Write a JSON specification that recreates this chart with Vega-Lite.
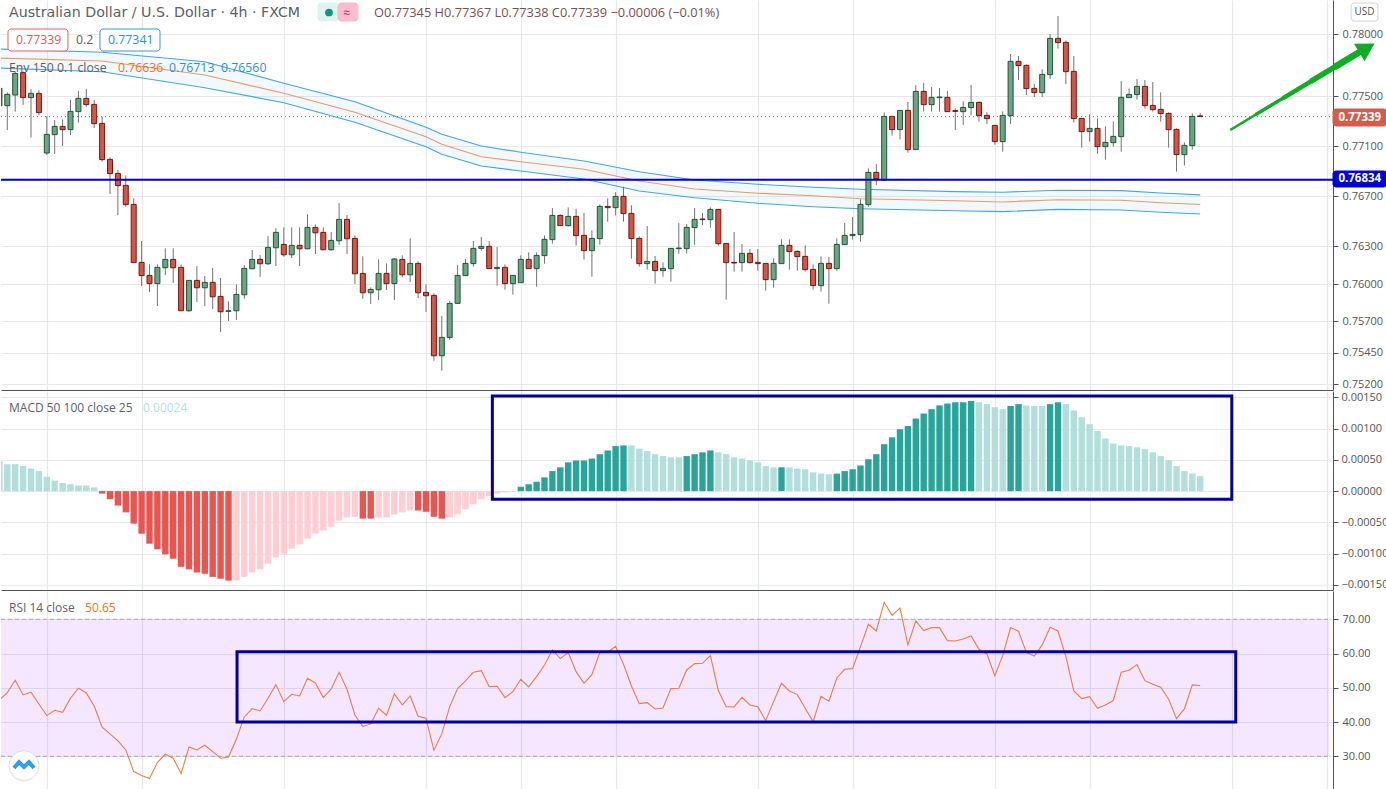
{"$schema":"https://vega.github.io/schema/vega-lite/v6.json","padding":0,"spacing":1,"background":"#ffffff","config":{"view":{"stroke":null},"font":"Open Sans","axis":{"title":null,"labelFont":"Open Sans","labelFontSize":11,"labelColor":"#555555","labelOverlap":false,"labelBound":false,"gridColor":"#e6e8ec","gridWidth":1.2,"domainColor":"#50535e","tickColor":"#50535e"}},"resolve":{"scale":{"color":"independent","fill":"independent","stroke":"independent"}},"datasets":{"candles":[{"i":-1,"o":0.77565,"h":0.776,"l":0.774,"c":0.77427},{"i":0,"o":0.77427,"h":0.77533,"l":0.77232,"c":0.77517},{"i":1,"o":0.77512,"h":0.777,"l":0.77379,"c":0.77685},{"i":2,"o":0.77691,"h":0.777,"l":0.77432,"c":0.77491},{"i":3,"o":0.77491,"h":0.7756,"l":0.77171,"c":0.77525},{"i":4,"o":0.77525,"h":0.77552,"l":0.77352,"c":0.77371},{"i":5,"o":0.77048,"h":0.77344,"l":0.77032,"c":0.77197},{"i":6,"o":0.77195,"h":0.77312,"l":0.7704,"c":0.77261},{"i":7,"o":0.77261,"h":0.77317,"l":0.77104,"c":0.77235},{"i":8,"o":0.77235,"h":0.77472,"l":0.77192,"c":0.77381},{"i":9,"o":0.77379,"h":0.77544,"l":0.77291,"c":0.77485},{"i":10,"o":0.77485,"h":0.7756,"l":0.77419,"c":0.77435},{"i":11,"o":0.77437,"h":0.77472,"l":0.77248,"c":0.77283},{"i":12,"o":0.77285,"h":0.77339,"l":0.76979,"c":0.76995},{"i":13,"o":0.76997,"h":0.77013,"l":0.7672,"c":0.76883},{"i":14,"o":0.76885,"h":0.76912,"l":0.76552,"c":0.76787},{"i":15,"o":0.76789,"h":0.76869,"l":0.76619,"c":0.76635},{"i":16,"o":0.76637,"h":0.76685,"l":0.76171,"c":0.76171},{"i":17,"o":0.76173,"h":0.76344,"l":0.75984,"c":0.76067},{"i":18,"o":0.76069,"h":0.76157,"l":0.75936,"c":0.76003},{"i":19,"o":0.76003,"h":0.76157,"l":0.75824,"c":0.76133},{"i":20,"o":0.7613,"h":0.76285,"l":0.76072,"c":0.76197},{"i":21,"o":0.76197,"h":0.76285,"l":0.76008,"c":0.7613},{"i":22,"o":0.76133,"h":0.76157,"l":0.75786,"c":0.75786},{"i":23,"o":0.75786,"h":0.76029,"l":0.75778,"c":0.76029},{"i":24,"o":0.76029,"h":0.76144,"l":0.75856,"c":0.7597},{"i":25,"o":0.7597,"h":0.76064,"l":0.75824,"c":0.76013},{"i":26,"o":0.76013,"h":0.76128,"l":0.758,"c":0.75898},{"i":27,"o":0.75901,"h":0.76048,"l":0.75616,"c":0.75778},{"i":28,"o":0.75781,"h":0.75861,"l":0.75704,"c":0.75786},{"i":29,"o":0.75786,"h":0.75997,"l":0.75712,"c":0.75917},{"i":30,"o":0.75914,"h":0.76152,"l":0.75882,"c":0.76125},{"i":31,"o":0.76122,"h":0.76272,"l":0.76122,"c":0.76197},{"i":32,"o":0.76197,"h":0.76232,"l":0.76056,"c":0.76162},{"i":33,"o":0.76162,"h":0.76384,"l":0.76152,"c":0.76293},{"i":34,"o":0.7629,"h":0.76445,"l":0.76144,"c":0.76413},{"i":35,"o":0.76317,"h":0.76453,"l":0.76218,"c":0.76234},{"i":36,"o":0.76234,"h":0.76453,"l":0.76208,"c":0.76309},{"i":37,"o":0.76309,"h":0.76453,"l":0.76144,"c":0.76282},{"i":38,"o":0.76282,"h":0.76557,"l":0.76277,"c":0.76453},{"i":39,"o":0.76453,"h":0.76477,"l":0.7624,"c":0.7641},{"i":40,"o":0.76413,"h":0.76453,"l":0.76272,"c":0.76274},{"i":41,"o":0.76274,"h":0.76416,"l":0.76266,"c":0.76349},{"i":42,"o":0.76346,"h":0.76648,"l":0.76312,"c":0.76517},{"i":43,"o":0.76517,"h":0.76552,"l":0.7624,"c":0.76362},{"i":44,"o":0.76365,"h":0.76389,"l":0.76,"c":0.76082},{"i":45,"o":0.76085,"h":0.76221,"l":0.75882,"c":0.7593},{"i":46,"o":0.7593,"h":0.75973,"l":0.7584,"c":0.75957},{"i":47,"o":0.75954,"h":0.76197,"l":0.75872,"c":0.76085},{"i":48,"o":0.76085,"h":0.76165,"l":0.75952,"c":0.76003},{"i":49,"o":0.76003,"h":0.76208,"l":0.75872,"c":0.762},{"i":50,"o":0.76197,"h":0.76229,"l":0.76053,"c":0.76074},{"i":51,"o":0.76074,"h":0.76365,"l":0.76016,"c":0.76165},{"i":52,"o":0.76165,"h":0.76181,"l":0.75888,"c":0.7593},{"i":53,"o":0.75933,"h":0.75997,"l":0.75776,"c":0.75906},{"i":54,"o":0.75909,"h":0.75925,"l":0.75386,"c":0.75426},{"i":55,"o":0.75426,"h":0.75744,"l":0.75306,"c":0.75573},{"i":56,"o":0.75573,"h":0.75864,"l":0.75552,"c":0.75845},{"i":57,"o":0.75845,"h":0.76152,"l":0.75845,"c":0.76069},{"i":58,"o":0.76067,"h":0.762,"l":0.76067,"c":0.76165},{"i":59,"o":0.76163,"h":0.76344,"l":0.76139,"c":0.76285},{"i":60,"o":0.76285,"h":0.76376,"l":0.76267,"c":0.76301},{"i":61,"o":0.76301,"h":0.76344,"l":0.76123,"c":0.76123},{"i":62,"o":0.76123,"h":0.76296,"l":0.75987,"c":0.76133},{"i":63,"o":0.76133,"h":0.76157,"l":0.75955,"c":0.76003},{"i":64,"o":0.76003,"h":0.76069,"l":0.75915,"c":0.76069},{"i":65,"o":0.76011,"h":0.76229,"l":0.76011,"c":0.76197},{"i":66,"o":0.76197,"h":0.76253,"l":0.76123,"c":0.76123},{"i":67,"o":0.76123,"h":0.76253,"l":0.75979,"c":0.76229},{"i":68,"o":0.76227,"h":0.76389,"l":0.76163,"c":0.76357},{"i":69,"o":0.76355,"h":0.76608,"l":0.76323,"c":0.76549},{"i":70,"o":0.76549,"h":0.76557,"l":0.76467,"c":0.76467},{"i":71,"o":0.76467,"h":0.76613,"l":0.76459,"c":0.76541},{"i":72,"o":0.76541,"h":0.766,"l":0.76307,"c":0.76387},{"i":73,"o":0.76389,"h":0.76568,"l":0.76195,"c":0.76267},{"i":74,"o":0.76267,"h":0.76429,"l":0.76059,"c":0.76365},{"i":75,"o":0.76363,"h":0.76637,"l":0.76315,"c":0.76621},{"i":76,"o":0.76621,"h":0.76685,"l":0.76499,"c":0.76611},{"i":77,"o":0.76611,"h":0.76733,"l":0.76549,"c":0.76701},{"i":78,"o":0.76701,"h":0.76779,"l":0.76499,"c":0.76563},{"i":79,"o":0.76565,"h":0.76629,"l":0.76203,"c":0.76363},{"i":80,"o":0.76365,"h":0.76381,"l":0.76139,"c":0.76163},{"i":81,"o":0.76163,"h":0.76464,"l":0.76115,"c":0.76181},{"i":82,"o":0.76181,"h":0.76224,"l":0.76003,"c":0.76107},{"i":83,"o":0.76107,"h":0.76173,"l":0.76059,"c":0.76125},{"i":84,"o":0.76123,"h":0.76285,"l":0.76019,"c":0.76285},{"i":85,"o":0.76283,"h":0.76488,"l":0.76243,"c":0.76288},{"i":86,"o":0.76283,"h":0.7648,"l":0.76243,"c":0.76453},{"i":87,"o":0.76451,"h":0.76608,"l":0.76315,"c":0.76517},{"i":88,"o":0.7652,"h":0.76568,"l":0.76472,"c":0.76515},{"i":89,"o":0.76515,"h":0.76613,"l":0.76451,"c":0.76597},{"i":90,"o":0.76597,"h":0.76597,"l":0.76307,"c":0.76323},{"i":91,"o":0.76325,"h":0.76325,"l":0.75875,"c":0.76171},{"i":92,"o":0.76173,"h":0.76416,"l":0.76099,"c":0.76168},{"i":93,"o":0.76171,"h":0.7632,"l":0.76099,"c":0.76245},{"i":94,"o":0.76245,"h":0.7628,"l":0.76163,"c":0.76171},{"i":95,"o":0.76173,"h":0.7628,"l":0.76107,"c":0.76163},{"i":96,"o":0.76165,"h":0.76165,"l":0.75947,"c":0.76035},{"i":97,"o":0.76035,"h":0.76205,"l":0.75971,"c":0.76165},{"i":98,"o":0.76163,"h":0.76357,"l":0.76163,"c":0.76309},{"i":99,"o":0.76309,"h":0.76357,"l":0.76115,"c":0.76259},{"i":100,"o":0.76261,"h":0.76269,"l":0.76107,"c":0.76219},{"i":101,"o":0.76221,"h":0.76309,"l":0.76099,"c":0.76115},{"i":102,"o":0.76117,"h":0.76157,"l":0.75955,"c":0.75987},{"i":103,"o":0.75987,"h":0.76221,"l":0.75939,"c":0.76165},{"i":104,"o":0.76165,"h":0.76216,"l":0.75843,"c":0.76123},{"i":105,"o":0.76123,"h":0.76365,"l":0.76107,"c":0.76317},{"i":106,"o":0.76315,"h":0.76488,"l":0.76315,"c":0.76389},{"i":107,"o":0.76387,"h":0.76536,"l":0.76355,"c":0.76397},{"i":108,"o":0.76395,"h":0.76677,"l":0.76339,"c":0.76637},{"i":109,"o":0.76635,"h":0.76925,"l":0.76619,"c":0.76893},{"i":110,"o":0.76893,"h":0.7696,"l":0.76792,"c":0.76843},{"i":111,"o":0.76832,"h":0.77373,"l":0.76824,"c":0.77341},{"i":112,"o":0.77341,"h":0.77341,"l":0.77187,"c":0.77235},{"i":113,"o":0.77235,"h":0.77389,"l":0.77155,"c":0.77389},{"i":114,"o":0.77389,"h":0.77456,"l":0.77051,"c":0.77075},{"i":115,"o":0.77075,"h":0.77592,"l":0.77075,"c":0.77541},{"i":116,"o":0.77541,"h":0.77608,"l":0.77379,"c":0.77435},{"i":117,"o":0.77435,"h":0.77576,"l":0.77379,"c":0.77493},{"i":118,"o":0.77491,"h":0.77568,"l":0.77379,"c":0.77496},{"i":119,"o":0.77493,"h":0.77544,"l":0.77379,"c":0.77379},{"i":120,"o":0.77387,"h":0.77405,"l":0.77232,"c":0.77381},{"i":121,"o":0.77379,"h":0.77461,"l":0.77272,"c":0.77413},{"i":122,"o":0.77411,"h":0.77592,"l":0.77352,"c":0.77453},{"i":123,"o":0.77453,"h":0.77461,"l":0.77299,"c":0.77347},{"i":124,"o":0.77349,"h":0.77373,"l":0.7728,"c":0.77323},{"i":125,"o":0.77269,"h":0.77269,"l":0.77115,"c":0.77139},{"i":126,"o":0.77139,"h":0.77381,"l":0.77059,"c":0.77349},{"i":127,"o":0.77347,"h":0.7784,"l":0.7728,"c":0.77781},{"i":128,"o":0.77781,"h":0.77824,"l":0.77632,"c":0.77747},{"i":129,"o":0.77749,"h":0.77757,"l":0.77512,"c":0.77563},{"i":130,"o":0.77565,"h":0.776,"l":0.77496,"c":0.77531},{"i":131,"o":0.77531,"h":0.77717,"l":0.77496,"c":0.77677},{"i":132,"o":0.77675,"h":0.78,"l":0.7764,"c":0.77965},{"i":133,"o":0.77965,"h":0.78144,"l":0.77883,"c":0.77931},{"i":134,"o":0.77933,"h":0.77949,"l":0.776,"c":0.77699},{"i":135,"o":0.77701,"h":0.77824,"l":0.77291,"c":0.77323},{"i":136,"o":0.77325,"h":0.77325,"l":0.77091,"c":0.77219},{"i":137,"o":0.77219,"h":0.77357,"l":0.77139,"c":0.77245},{"i":138,"o":0.77245,"h":0.77325,"l":0.77043,"c":0.77099},{"i":139,"o":0.77099,"h":0.77261,"l":0.76995,"c":0.77133},{"i":140,"o":0.77131,"h":0.77301,"l":0.77099,"c":0.77181},{"i":141,"o":0.77179,"h":0.77624,"l":0.77059,"c":0.77493},{"i":142,"o":0.77491,"h":0.77565,"l":0.77491,"c":0.77517},{"i":143,"o":0.77515,"h":0.7764,"l":0.77475,"c":0.77581},{"i":144,"o":0.77581,"h":0.77632,"l":0.77403,"c":0.77427},{"i":145,"o":0.77429,"h":0.77616,"l":0.77379,"c":0.77395},{"i":146,"o":0.77397,"h":0.77533,"l":0.77299,"c":0.77363},{"i":147,"o":0.77365,"h":0.77373,"l":0.77091,"c":0.77235},{"i":148,"o":0.77237,"h":0.77245,"l":0.76899,"c":0.77035},{"i":149,"o":0.77035,"h":0.77133,"l":0.76947,"c":0.77109},{"i":150,"o":0.77107,"h":0.77365,"l":0.77075,"c":0.77341},{"i":151,"o":0.77345,"h":0.77367,"l":0.77338,"c":0.77339}],"env":[{"i":-1,"u":0.7788,"b":0.77808,"l":0.77728},{"i":12,"u":0.77854,"b":0.77784,"l":0.77698},{"i":25,"u":0.77778,"b":0.77672,"l":0.7757},{"i":35,"u":0.77606,"b":0.77526,"l":0.7745},{"i":44,"u":0.77458,"b":0.77374,"l":0.77294},{"i":53,"u":0.77254,"b":0.77178,"l":0.77098},{"i":55,"u":0.77198,"b":0.77118,"l":0.77038},{"i":60,"u":0.77104,"b":0.77018,"l":0.76944},{"i":65,"u":0.77054,"b":0.76978,"l":0.76904},{"i":73,"u":0.76984,"b":0.76918,"l":0.7684},{"i":80,"u":0.76898,"b":0.76824,"l":0.76744},{"i":87,"u":0.76832,"b":0.7676,"l":0.7669},{"i":95,"u":0.76798,"b":0.76726,"l":0.76646},{"i":102,"u":0.76774,"b":0.76706,"l":0.76618},{"i":108,"u":0.76758,"b":0.76682,"l":0.76602},{"i":120,"u":0.76739,"b":0.76666,"l":0.76586},{"i":126,"u":0.76734,"b":0.76656,"l":0.76579},{"i":133,"u":0.7675,"b":0.76674,"l":0.76597},{"i":141,"u":0.76747,"b":0.7667,"l":0.76592},{"i":146,"u":0.76728,"b":0.7665,"l":0.76574},{"i":151,"u":0.76713,"b":0.76636,"l":0.7656}],"macd":[{"i":-1,"v":0.00048,"k":"upLight"},{"i":0,"v":0.00043,"k":"upLight"},{"i":1,"v":0.00043,"k":"upLight"},{"i":2,"v":0.0004,"k":"upLight"},{"i":3,"v":0.00036,"k":"upLight"},{"i":4,"v":0.00032,"k":"upLight"},{"i":5,"v":0.00023,"k":"upLight"},{"i":6,"v":0.00017,"k":"upLight"},{"i":7,"v":0.00013,"k":"upLight"},{"i":8,"v":0.00011,"k":"upLight"},{"i":9,"v":0.00009,"k":"upLight"},{"i":10,"v":0.00009,"k":"upLight"},{"i":11,"v":0.00006,"k":"upLight"},{"i":12,"v":-0.00004,"k":"dnDark"},{"i":13,"v":-0.00013,"k":"dnDark"},{"i":14,"v":-0.00023,"k":"dnDark"},{"i":15,"v":-0.00034,"k":"dnDark"},{"i":16,"v":-0.00052,"k":"dnDark"},{"i":17,"v":-0.00068,"k":"dnDark"},{"i":18,"v":-0.00084,"k":"dnDark"},{"i":19,"v":-0.00093,"k":"dnDark"},{"i":20,"v":-0.00101,"k":"dnDark"},{"i":21,"v":-0.00108,"k":"dnDark"},{"i":22,"v":-0.00121,"k":"dnDark"},{"i":23,"v":-0.00125,"k":"dnDark"},{"i":24,"v":-0.0013,"k":"dnDark"},{"i":25,"v":-0.00132,"k":"dnDark"},{"i":26,"v":-0.00137,"k":"dnDark"},{"i":27,"v":-0.0014,"k":"dnDark"},{"i":28,"v":-0.00143,"k":"dnDark"},{"i":29,"v":-0.00143,"k":"dnLight"},{"i":30,"v":-0.00137,"k":"dnLight"},{"i":31,"v":-0.0013,"k":"dnLight"},{"i":32,"v":-0.00125,"k":"dnLight"},{"i":33,"v":-0.00116,"k":"dnLight"},{"i":34,"v":-0.00106,"k":"dnLight"},{"i":35,"v":-0.001,"k":"dnLight"},{"i":36,"v":-0.00092,"k":"dnLight"},{"i":37,"v":-0.00085,"k":"dnLight"},{"i":38,"v":-0.00076,"k":"dnLight"},{"i":39,"v":-0.00068,"k":"dnLight"},{"i":40,"v":-0.00063,"k":"dnLight"},{"i":41,"v":-0.00057,"k":"dnLight"},{"i":42,"v":-0.00047,"k":"dnLight"},{"i":43,"v":-0.00042,"k":"dnLight"},{"i":44,"v":-0.00041,"k":"dnLight"},{"i":45,"v":-0.00044,"k":"dnDark"},{"i":46,"v":-0.00044,"k":"dnDark"},{"i":47,"v":-0.00042,"k":"dnLight"},{"i":48,"v":-0.00042,"k":"dnLight"},{"i":49,"v":-0.00037,"k":"dnLight"},{"i":50,"v":-0.00034,"k":"dnLight"},{"i":51,"v":-0.00031,"k":"dnLight"},{"i":52,"v":-0.00031,"k":"dnDark"},{"i":53,"v":-0.00033,"k":"dnDark"},{"i":54,"v":-0.00041,"k":"dnDark"},{"i":55,"v":-0.00044,"k":"dnDark"},{"i":56,"v":-0.00042,"k":"dnLight"},{"i":57,"v":-0.00037,"k":"dnLight"},{"i":58,"v":-0.00029,"k":"dnLight"},{"i":59,"v":-0.00021,"k":"dnLight"},{"i":60,"v":-0.00013,"k":"dnLight"},{"i":61,"v":-0.00008,"k":"dnLight"},{"i":62,"v":-0.00004,"k":"dnLight"},{"i":63,"v":-0.00002,"k":"dnLight"},{"i":64,"v":-0.00001,"k":"dnLight"},{"i":65,"v":0.00007,"k":"upDark"},{"i":66,"v":0.00011,"k":"upDark"},{"i":67,"v":0.00015,"k":"upDark"},{"i":68,"v":0.00022,"k":"upDark"},{"i":69,"v":0.00032,"k":"upDark"},{"i":70,"v":0.00038,"k":"upDark"},{"i":71,"v":0.00046,"k":"upDark"},{"i":72,"v":0.00049,"k":"upDark"},{"i":73,"v":0.00049,"k":"upDark"},{"i":74,"v":0.00052,"k":"upDark"},{"i":75,"v":0.00059,"k":"upDark"},{"i":76,"v":0.00065,"k":"upDark"},{"i":77,"v":0.00072,"k":"upDark"},{"i":78,"v":0.00073,"k":"upDark"},{"i":79,"v":0.00073,"k":"upLight"},{"i":80,"v":0.00068,"k":"upLight"},{"i":81,"v":0.00064,"k":"upLight"},{"i":82,"v":0.00059,"k":"upLight"},{"i":83,"v":0.00056,"k":"upLight"},{"i":84,"v":0.00054,"k":"upLight"},{"i":85,"v":0.00054,"k":"upLight"},{"i":86,"v":0.00056,"k":"upDark"},{"i":87,"v":0.00059,"k":"upDark"},{"i":88,"v":0.00062,"k":"upDark"},{"i":89,"v":0.00065,"k":"upDark"},{"i":90,"v":0.00062,"k":"upLight"},{"i":91,"v":0.00059,"k":"upLight"},{"i":92,"v":0.00054,"k":"upLight"},{"i":93,"v":0.00052,"k":"upLight"},{"i":94,"v":0.00049,"k":"upLight"},{"i":95,"v":0.00046,"k":"upLight"},{"i":96,"v":0.0004,"k":"upLight"},{"i":97,"v":0.00038,"k":"upLight"},{"i":98,"v":0.00038,"k":"upDark"},{"i":99,"v":0.00038,"k":"upLight"},{"i":100,"v":0.00036,"k":"upLight"},{"i":101,"v":0.00035,"k":"upLight"},{"i":102,"v":0.0003,"k":"upLight"},{"i":103,"v":0.00028,"k":"upLight"},{"i":104,"v":0.00027,"k":"upLight"},{"i":105,"v":0.00028,"k":"upDark"},{"i":106,"v":0.00032,"k":"upDark"},{"i":107,"v":0.00035,"k":"upDark"},{"i":108,"v":0.00041,"k":"upDark"},{"i":109,"v":0.00051,"k":"upDark"},{"i":110,"v":0.00059,"k":"upDark"},{"i":111,"v":0.00075,"k":"upDark"},{"i":112,"v":0.00086,"k":"upDark"},{"i":113,"v":0.00099,"k":"upDark"},{"i":114,"v":0.00104,"k":"upDark"},{"i":115,"v":0.00116,"k":"upDark"},{"i":116,"v":0.00124,"k":"upDark"},{"i":117,"v":0.00131,"k":"upDark"},{"i":118,"v":0.00137,"k":"upDark"},{"i":119,"v":0.0014,"k":"upDark"},{"i":120,"v":0.00142,"k":"upDark"},{"i":121,"v":0.00142,"k":"upDark"},{"i":122,"v":0.00144,"k":"upDark"},{"i":123,"v":0.00142,"k":"upLight"},{"i":124,"v":0.00139,"k":"upLight"},{"i":125,"v":0.00134,"k":"upLight"},{"i":126,"v":0.00131,"k":"upLight"},{"i":127,"v":0.00136,"k":"upDark"},{"i":128,"v":0.00139,"k":"upDark"},{"i":129,"v":0.00137,"k":"upLight"},{"i":130,"v":0.00136,"k":"upLight"},{"i":131,"v":0.00136,"k":"upLight"},{"i":132,"v":0.00139,"k":"upDark"},{"i":133,"v":0.00142,"k":"upDark"},{"i":134,"v":0.00139,"k":"upLight"},{"i":135,"v":0.00129,"k":"upLight"},{"i":136,"v":0.00118,"k":"upLight"},{"i":137,"v":0.00107,"k":"upLight"},{"i":138,"v":0.00096,"k":"upLight"},{"i":139,"v":0.00084,"k":"upLight"},{"i":140,"v":0.00076,"k":"upLight"},{"i":141,"v":0.00073,"k":"upLight"},{"i":142,"v":0.00072,"k":"upLight"},{"i":143,"v":0.0007,"k":"upLight"},{"i":144,"v":0.00067,"k":"upLight"},{"i":145,"v":0.00062,"k":"upLight"},{"i":146,"v":0.00056,"k":"upLight"},{"i":147,"v":0.00049,"k":"upLight"},{"i":148,"v":0.0004,"k":"upLight"},{"i":149,"v":0.00032,"k":"upLight"},{"i":150,"v":0.00028,"k":"upLight"},{"i":151,"v":0.00024,"k":"upLight"}],"rsi":[{"i":-1,"v":46.45},{"i":0,"v":48.59},{"i":1,"v":52.19},{"i":2,"v":47.91},{"i":3,"v":48.69},{"i":4,"v":45.28},{"i":5,"v":41.88},{"i":6,"v":43.43},{"i":7,"v":42.85},{"i":8,"v":46.94},{"i":9,"v":49.86},{"i":10,"v":48.49},{"i":11,"v":44.7},{"i":12,"v":38.47},{"i":13,"v":36.53},{"i":14,"v":34.48},{"i":15,"v":31.86},{"i":16,"v":25.53},{"i":17,"v":24.36},{"i":18,"v":23.49},{"i":19,"v":28.16},{"i":20,"v":30.59},{"i":21,"v":29.42},{"i":22,"v":24.95},{"i":23,"v":32.73},{"i":24,"v":31.86},{"i":25,"v":33.22},{"i":26,"v":31.37},{"i":27,"v":29.42},{"i":28,"v":29.81},{"i":29,"v":35.07},{"i":30,"v":41.49},{"i":31,"v":43.92},{"i":32,"v":43.24},{"i":33,"v":46.94},{"i":34,"v":50.93},{"i":35,"v":45.96},{"i":36,"v":48.1},{"i":37,"v":47.62},{"i":38,"v":52.78},{"i":39,"v":51.41},{"i":40,"v":47.13},{"i":41,"v":49.66},{"i":42,"v":54.53},{"i":43,"v":49.56},{"i":44,"v":42.07},{"i":45,"v":38.67},{"i":46,"v":39.45},{"i":47,"v":44.02},{"i":48,"v":41.98},{"i":49,"v":48.2},{"i":50,"v":45},{"i":51,"v":47.62},{"i":52,"v":41.68},{"i":53,"v":41.1},{"i":54,"v":31.76},{"i":55,"v":36.53},{"i":56,"v":44.5},{"i":57,"v":49.76},{"i":58,"v":52},{"i":59,"v":54.53},{"i":60,"v":55.01},{"i":61,"v":50.34},{"i":62,"v":50.44},{"i":63,"v":47.13},{"i":64,"v":48.88},{"i":65,"v":52.48},{"i":66,"v":50.25},{"i":67,"v":53.26},{"i":68,"v":56.67},{"i":69,"v":61.05},{"i":70,"v":58.52},{"i":71,"v":60.27},{"i":72,"v":54.72},{"i":73,"v":51.32},{"i":74,"v":53.85},{"i":75,"v":60.27},{"i":76,"v":60.37},{"i":77,"v":62.12},{"i":78,"v":56.86},{"i":79,"v":50.54},{"i":80,"v":45.38},{"i":81,"v":45.67},{"i":82,"v":43.82},{"i":83,"v":44.12},{"i":84,"v":49.76},{"i":85,"v":49.86},{"i":86,"v":55.21},{"i":87,"v":57.06},{"i":88,"v":57.15},{"i":89,"v":59.39},{"i":90,"v":49.18},{"i":91,"v":44.5},{"i":92,"v":44.41},{"i":93,"v":47.23},{"i":94,"v":45},{"i":95,"v":44.5},{"i":96,"v":40.42},{"i":97,"v":45.96},{"i":98,"v":51.32},{"i":99,"v":49.08},{"i":100,"v":48.01},{"i":101,"v":44.02},{"i":102,"v":40.13},{"i":103,"v":47.52},{"i":104,"v":46.06},{"i":105,"v":52.87},{"i":106,"v":55.4},{"i":107,"v":55.6},{"i":108,"v":62.02},{"i":109,"v":68.54},{"i":110,"v":66.59},{"i":111,"v":74.96},{"i":112,"v":71.17},{"i":113,"v":73.31},{"i":114,"v":62.51},{"i":115,"v":69.51},{"i":116,"v":66.69},{"i":117,"v":67.57},{"i":118,"v":67.57},{"i":119,"v":63.77},{"i":120,"v":63.67},{"i":121,"v":64.26},{"i":122,"v":65.13},{"i":123,"v":61.24},{"i":124,"v":59.88},{"i":125,"v":53.55},{"i":126,"v":59.39},{"i":127,"v":67.57},{"i":128,"v":66.5},{"i":129,"v":60.27},{"i":130,"v":59.29},{"i":131,"v":62.51},{"i":132,"v":67.66},{"i":133,"v":66.59},{"i":134,"v":59.1},{"i":135,"v":49.08},{"i":136,"v":46.84},{"i":137,"v":47.42},{"i":138,"v":44.02},{"i":139,"v":45},{"i":140,"v":46.26},{"i":141,"v":54.53},{"i":142,"v":55.11},{"i":143,"v":56.76},{"i":144,"v":52.09},{"i":145,"v":51.02},{"i":146,"v":50.15},{"i":147,"v":46.65},{"i":148,"v":41},{"i":149,"v":43.82},{"i":150,"v":50.83},{"i":151,"v":50.65}]},"vconcat":[{"width":1332,"height":390,"encoding":{"x":{"field":"i","type":"quantitative","scale":{"domain":[-0.797,167.81],"nice":false,"zero":false,"padding":0},"axis":{"orient":"bottom","values":[5,17,35,53,65,77,95,107,125,137,155,167],"tickCount":20,"grid":true,"domain":true,"ticks":false,"labels":false,"minExtent":0,"maxExtent":0}}},"layer":[{"data":{"name":"env"},"mark":{"type":"area","color":"#2196f3","opacity":0.06,"clip":true},"encoding":{"y":{"field":"l","type":"quantitative","scale":{"domain":[0.75152,0.78272],"nice":false,"zero":false},"axis":{"title":null,"orient":"right","values":[0.78,0.775,0.771,0.767,0.763,0.76,0.757,0.7545,0.752],"tickCount":20,"format":".5f","grid":true,"domain":true,"tickSize":5,"labelPadding":4,"minExtent":54,"maxExtent":54}},"y2":{"field":"u"}}},{"data":{"name":"env"},"mark":{"type":"line","color":"#45a5e8","strokeWidth":1.2,"clip":true},"encoding":{"y":{"field":"u","type":"quantitative","scale":{"domain":[0.75152,0.78272],"nice":false,"zero":false},"axis":{"title":null}}}},{"data":{"name":"env"},"mark":{"type":"line","color":"#45a5e8","strokeWidth":1.2,"clip":true},"encoding":{"y":{"field":"l","type":"quantitative","scale":{"domain":[0.75152,0.78272],"nice":false,"zero":false},"axis":{"title":null}}}},{"data":{"name":"env"},"mark":{"type":"line","color":"#ee9a66","strokeWidth":1.2,"clip":true},"encoding":{"y":{"field":"b","type":"quantitative","scale":{"domain":[0.75152,0.78272],"nice":false,"zero":false},"axis":{"title":null}}}},{"data":{"values":[{"p":0.77339}]},"mark":{"type":"rule","color":"#b5634f","strokeDash":[1,3],"strokeWidth":1},"encoding":{"x":{"value":0},"x2":{"value":1332},"y":{"field":"p","type":"quantitative","scale":{"domain":[0.75152,0.78272],"nice":false,"zero":false},"axis":{"title":null}}}},{"data":{"name":"candles"},"mark":{"type":"rule","color":"#737375","strokeWidth":1,"clip":true},"encoding":{"y":{"field":"l","type":"quantitative","scale":{"domain":[0.75152,0.78272],"nice":false,"zero":false},"axis":{"title":null}},"y2":{"field":"h"}}},{"data":{"name":"candles"},"mark":{"type":"bar","width":5,"strokeWidth":1,"orient":"vertical","clip":true},"encoding":{"y":{"field":"o","type":"quantitative","scale":{"domain":[0.75152,0.78272],"nice":false,"zero":false},"axis":{"title":null},"stack":null},"y2":{"field":"c"},"fill":{"condition":{"test":"datum.c>=datum.o","value":"#6ba583"},"value":"#d75442"},"stroke":{"condition":{"test":"datum.c>=datum.o","value":"#225437"},"value":"#6b1a13"}}},{"data":{"values":[{"p":0.76834}]},"mark":{"type":"rule","color":"#0000cc","strokeWidth":2},"encoding":{"x":{"value":0},"x2":{"value":1332},"y":{"field":"p","type":"quantitative","scale":{"domain":[0.75152,0.78272],"nice":false,"zero":false},"axis":{"title":null}}}},{"data":{"values":[{"i":154.8,"p":0.77232},{"i":171.6,"p":0.77872}]},"mark":{"type":"line","color":"#0cae22","strokeWidth":2.5},"encoding":{"y":{"field":"p","type":"quantitative","scale":{"domain":[0.75152,0.78272],"nice":false,"zero":false},"axis":{"title":null}}}},{"data":{"values":[{"i":158,"p":0.77354},{"i":171.6,"p":0.77872}]},"mark":{"type":"line","color":"#0cae22","strokeWidth":3.5},"encoding":{"y":{"field":"p","type":"quantitative","scale":{"domain":[0.75152,0.78272],"nice":false,"zero":false},"axis":{"title":null}}}},{"data":{"values":[{"i":161.5,"p":0.77487},{"i":171.6,"p":0.77872}]},"mark":{"type":"line","color":"#0cae22","strokeWidth":4.5},"encoding":{"y":{"field":"p","type":"quantitative","scale":{"domain":[0.75152,0.78272],"nice":false,"zero":false},"axis":{"title":null}}}},{"data":{"values":[{"i":165,"p":0.77621},{"i":171.6,"p":0.77872}]},"mark":{"type":"line","color":"#0cae22","strokeWidth":5.5},"encoding":{"y":{"field":"p","type":"quantitative","scale":{"domain":[0.75152,0.78272],"nice":false,"zero":false},"axis":{"title":null}}}},{"data":{"values":[{"i":168,"p":0.77735},{"i":171.6,"p":0.77872}]},"mark":{"type":"line","color":"#0cae22","strokeWidth":6.5},"encoding":{"y":{"field":"p","type":"quantitative","scale":{"domain":[0.75152,0.78272],"nice":false,"zero":false},"axis":{"title":null}}}},{"data":{"values":[{"i":172.1,"p":0.77888}]},"mark":{"type":"point","shape":"triangle-up","filled":true,"color":"#0cae22","opacity":1,"angle":59,"size":420},"encoding":{"y":{"field":"p","type":"quantitative","scale":{"domain":[0.75152,0.78272],"nice":false,"zero":false},"axis":{"title":null}}}},{"data":{"values":[{"role":"boxRed","i":0.09,"i2":7.68,"p":0.7804,"p2":0.77864},{"role":"boxBlue","i":11.73,"i2":19.33,"p":0.7804,"p2":0.77864},{"role":"pillGreen","i":39.33,"i2":41.86,"p":0.78248,"p2":0.78104},{"role":"pillPink","i":41.86,"i2":44.39,"p":0.78248,"p2":0.78104},{"role":"tagRed","i":167.81,"i2":174.6,"p":0.774,"p2":0.77264},{"role":"tagBlue","i":167.81,"i2":174.6,"p":0.76904,"p2":0.76776},{"role":"usd","i":170.1,"i2":173.5,"p":0.78248,"p2":0.78104}]},"mark":{"type":"rect","cornerRadius":3,"strokeWidth":1},"encoding":{"x2":{"field":"i2"},"y":{"field":"p","type":"quantitative","scale":{"domain":[0.75152,0.78272],"nice":false,"zero":false},"axis":{"title":null}},"y2":{"field":"p2"},"fill":{"field":"role","type":"nominal","legend":null,"scale":{"domain":["boxRed","boxBlue","pillGreen","pillPink","tagRed","tagBlue","usd"],"range":["#ffffff","#ffffff","#dff3ef","#f9bcd0","#d65b4a","#0000dd","#ffffff"]}},"stroke":{"field":"role","type":"nominal","legend":null,"scale":{"domain":["boxRed","boxBlue","pillGreen","pillPink","tagRed","tagBlue","usd"],"range":["#e06666","#3d94d6","#dff3ef","#f9bcd0","#d65b4a","#0000dd","#d4d4d4"]}}}},{"data":{"values":[{"i":40.72,"p":0.78172}]},"mark":{"type":"point","filled":true,"color":"#089981","opacity":1,"size":60},"encoding":{"y":{"field":"p","type":"quantitative","scale":{"domain":[0.75152,0.78272],"nice":false,"zero":false},"axis":{"title":null}}}},{"data":{"values":[{"i":0.215,"p":0.78168,"t":"Australian Dollar / U.S. Dollar · 4h · FXCM"}]},"mark":{"type":"text","align":"left","baseline":"middle","fontSize":14.2,"font":"DejaVu Sans","color":"#5d606b"},"encoding":{"y":{"field":"p","type":"quantitative","scale":{"domain":[0.75152,0.78272],"nice":false,"zero":false},"axis":{"title":null}},"text":{"field":"t"}}},{"data":{"values":[{"i":46.42,"p":0.78168,"t":"O0.77345  H0.77367  L0.77338  C0.77339  −0.00006 (−0.01%)"}]},"mark":{"type":"text","align":"left","baseline":"middle","fontSize":12.8,"color":"#7a5050"},"encoding":{"y":{"field":"p","type":"quantitative","scale":{"domain":[0.75152,0.78272],"nice":false,"zero":false},"axis":{"title":null}},"text":{"field":"t"}}},{"data":{"values":[{"role":"pink","i":42.5,"p":0.78168,"t":"≈"},{"role":"red","i":1.1,"p":0.77952,"t":"0.77339"},{"role":"grey","i":8.7,"p":0.77952,"t":"0.2"},{"role":"blue","i":12.75,"p":0.77952,"t":"0.77341"},{"role":"grey","i":0.215,"p":0.77728,"t":"Env 150 0.1 close"},{"role":"orange","i":14,"p":0.77728,"t":"0.76636"},{"role":"blue","i":20.47,"p":0.77728,"t":"0.76713"},{"role":"blue","i":27.05,"p":0.77728,"t":"0.76560"}]},"mark":{"type":"text","align":"left","baseline":"middle","fontSize":12.3},"encoding":{"y":{"field":"p","type":"quantitative","scale":{"domain":[0.75152,0.78272],"nice":false,"zero":false},"axis":{"title":null}},"text":{"field":"t"},"color":{"field":"role","type":"nominal","legend":null,"scale":{"domain":["pink","red","grey","blue","orange"],"range":["#d81b60","#e05a5a","#5d606b","#2e8fd6","#f0701e"]}}}},{"data":{"values":[{"i":171.2,"p":0.77332,"t":"0.77339"},{"i":171.2,"p":0.7684,"t":"0.76834"}]},"mark":{"type":"text","align":"center","baseline":"middle","fontSize":11.5,"fontWeight":"bold","color":"#ffffff"},"encoding":{"y":{"field":"p","type":"quantitative","scale":{"domain":[0.75152,0.78272],"nice":false,"zero":false},"axis":{"title":null}},"text":{"field":"t"}}},{"data":{"values":[{"i":171.8,"p":0.78176,"t":"USD"}]},"mark":{"type":"text","align":"center","baseline":"middle","fontSize":10,"color":"#555555"},"encoding":{"y":{"field":"p","type":"quantitative","scale":{"domain":[0.75152,0.78272],"nice":false,"zero":false},"axis":{"title":null}},"text":{"field":"t"}}}]},{"width":1332,"height":199,"encoding":{"x":{"field":"i","type":"quantitative","scale":{"domain":[-0.797,167.81],"nice":false,"zero":false,"padding":0},"axis":{"orient":"bottom","values":[5,17,35,53,65,77,95,107,125,137,155,167],"tickCount":20,"grid":true,"domain":true,"ticks":false,"labels":false,"minExtent":0,"maxExtent":0}}},"layer":[{"data":{"name":"macd"},"mark":{"type":"bar","width":6.4,"orient":"vertical","clip":true},"encoding":{"y":{"field":"v","type":"quantitative","stack":null,"scale":{"domain":[-0.00158,0.0016],"nice":false,"zero":false},"axis":{"title":null,"orient":"right","values":[0.0015,0.001,0.0005,0,-0.0005,-0.001,-0.0015],"tickCount":20,"format":".5f","grid":true,"domain":true,"tickSize":5,"labelPadding":3,"minExtent":54,"maxExtent":54}},"y2":{"datum":0},"color":{"field":"k","type":"nominal","legend":null,"scale":{"domain":["upDark","upLight","dnDark","dnLight"],"range":["#26a69a","#b2dfdb","#ef5350","#ffcdd2"]}}}},{"data":{"values":[{"i":61.4,"i2":155,"p":0.00152,"p2":-0.00013}]},"mark":{"type":"rect","fillOpacity":0,"stroke":"#00009c","strokeWidth":3},"encoding":{"x2":{"field":"i2"},"y":{"field":"p","type":"quantitative","scale":{"domain":[-0.00158,0.0016],"nice":false,"zero":false},"axis":{"title":null}},"y2":{"field":"p2"}}},{"data":{"values":[{"i":0.215,"p":0.00133,"t":"MACD 50 100 close 25"}]},"mark":{"type":"text","align":"left","baseline":"middle","fontSize":12,"color":"#5d606b"},"encoding":{"y":{"field":"p","type":"quantitative","scale":{"domain":[-0.00158,0.0016],"nice":false,"zero":false},"axis":{"title":null}},"text":{"field":"t"}}},{"data":{"values":[{"i":17.18,"p":0.00133,"t":"0.00024"}]},"mark":{"type":"text","align":"left","baseline":"middle","fontSize":12,"color":"#b2dfdb"},"encoding":{"y":{"field":"p","type":"quantitative","scale":{"domain":[-0.00158,0.0016],"nice":false,"zero":false},"axis":{"title":null}},"text":{"field":"t"}}}]},{"width":1332,"height":198,"encoding":{"x":{"field":"i","type":"quantitative","scale":{"domain":[-0.797,167.81],"nice":false,"zero":false,"padding":0},"axis":{"orient":"bottom","values":[5,17,35,53,65,77,95,107,125,137,155,167],"tickCount":20,"grid":true,"domain":false,"ticks":false,"labels":false,"minExtent":0,"maxExtent":0}}},"layer":[{"data":{"values":[{"i":-0.797,"i2":167.3,"p":70,"p2":30}]},"mark":{"type":"rect","color":"#9c27ff","opacity":0.11},"encoding":{"x2":{"field":"i2"},"y":{"field":"p","type":"quantitative","scale":{"domain":[20.45,78.26],"nice":false,"zero":false},"axis":{"title":null,"orient":"right","values":[70,60,50,40,30],"tickCount":20,"format":".2f","grid":true,"domain":true,"tickSize":5,"labelPadding":4,"minExtent":54,"maxExtent":54}},"y2":{"field":"p2"}}},{"data":{"values":[{"i":-0.797,"i2":167.3,"p":70},{"i":-0.797,"i2":167.3,"p":30}]},"mark":{"type":"rule","color":"#a8a8a8","strokeDash":[4,3],"strokeWidth":1},"encoding":{"x2":{"field":"i2"},"y":{"field":"p","type":"quantitative","scale":{"domain":[20.45,78.26],"nice":false,"zero":false},"axis":{"title":null}}}},{"data":{"name":"rsi"},"mark":{"type":"line","color":"#ef7d42","strokeWidth":1.1,"clip":true},"encoding":{"y":{"field":"v","type":"quantitative","scale":{"domain":[20.45,78.26],"nice":false,"zero":false},"axis":{"title":null}}}},{"data":{"values":[{"i":29.08,"i2":155.5,"p":60.54,"p2":40}]},"mark":{"type":"rect","fillOpacity":0,"stroke":"#00009c","strokeWidth":3},"encoding":{"x2":{"field":"i2"},"y":{"field":"p","type":"quantitative","scale":{"domain":[20.45,78.26],"nice":false,"zero":false},"axis":{"title":null}},"y2":{"field":"p2"}}},{"data":{"values":[{"i":2.11,"p":27.25}]},"mark":{"type":"point","filled":true,"color":"#ffffff","stroke":"#dddddd","strokeWidth":1,"opacity":1,"size":900},"encoding":{"y":{"field":"p","type":"quantitative","scale":{"domain":[20.45,78.26],"nice":false,"zero":false},"axis":{"title":null}}}},{"data":{"values":[{"i":0.85,"p":26.6},{"i":1.48,"p":28.3},{"i":2.11,"p":26.9},{"i":2.75,"p":28.3},{"i":3.38,"p":26.6}]},"mark":{"type":"line","color":"#2f9cf0","strokeWidth":4},"encoding":{"y":{"field":"p","type":"quantitative","scale":{"domain":[20.45,78.26],"nice":false,"zero":false},"axis":{"title":null}}}},{"data":{"values":[{"role":"grey","i":0.215,"p":73.3,"t":"RSI 14 close"},{"role":"val","i":9.84,"p":73.3,"t":"50.65"}]},"mark":{"type":"text","align":"left","baseline":"middle","fontSize":12},"encoding":{"y":{"field":"p","type":"quantitative","scale":{"domain":[20.45,78.26],"nice":false,"zero":false},"axis":{"title":null}},"text":{"field":"t"},"color":{"field":"role","type":"nominal","legend":null,"scale":{"domain":["grey","val"],"range":["#5d606b","#f0701e"]}}}}]}]}
